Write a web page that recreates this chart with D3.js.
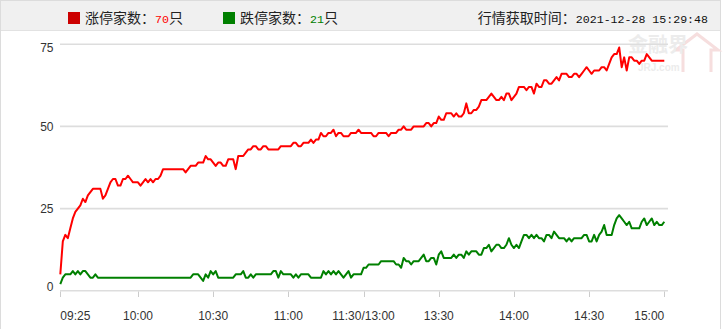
<!DOCTYPE html>
<html><head><meta charset="utf-8">
<script src="https://cdn.jsdelivr.net/npm/d3@7"></script>
<style>html,body{margin:0;padding:0;background:#fff;overflow:hidden}</style>
</head><body>
<svg id="c" width="723" height="329"></svg>
<script>
// ---- data ----
const upCount = [5,15,17,16,19,22,24,25,26,28,
27,29,30,31,31,31,31,28,29,31,
33,34,34,32,32,34,34,35,34,33,
33,33,32,33,34,33,34,33,34,34,
35,37,37,37,37,37,37,37,37,37,
36,37,38,38,38,39,39,39,41,40,
40,39,38,39,39,38,38,40,40,40,
37,41,41,41,42,43,43,44,44,43,
43,44,44,43,43,43,43,43,44,44,
44,44,44,45,45,44,44,45,45,45,
46,45,46,46,48,47,47,48,48,49,
47,48,48,47,47,47,48,48,48,49,
48,48,48,48,48,47,47,48,48,48,
48,47,48,48,48,49,49,50,49,49,
49,50,50,50,50,50,51,51,50,51,
51,53,52,52,54,54,54,53,54,53,
53,54,57,54,54,55,55,56,58,58,
58,59,60,59,58,58,59,58,60,60,
58,59,60,62,62,62,61,62,62,60,
63,62,62,64,64,63,63,64,65,64,
66,66,66,65,65,66,66,65,66,67,
68,67,66,67,67,67,68,68,67,69,
71,72,72,74,68,71,67,71,71,70,
70,69,70,70,72,71,70,70,70,70,
70,70];
const downCount = [2,4,5,5,5,6,5,6,5,6,
6,5,4,4,5,4,4,4,4,4,
4,4,4,4,4,4,4,4,4,4,
4,4,4,4,4,4,4,4,4,4,
4,4,4,4,4,4,4,4,4,4,
4,4,4,5,5,5,4,3,5,4,
6,5,6,4,4,4,4,4,4,4,
5,5,5,6,4,4,5,4,5,5,
5,5,5,5,5,6,6,4,6,5,
5,5,5,4,5,4,5,5,5,5,
4,4,4,4,4,6,5,6,5,6,
5,6,5,4,5,6,4,5,5,5,
5,7,7,8,8,8,8,8,9,9,
9,9,9,9,8,8,7,10,9,9,
8,9,9,9,10,11,9,9,10,10,
8,11,12,10,10,10,10,11,10,11,
11,10,12,11,12,12,12,11,11,13,
13,14,12,13,14,14,13,13,14,16,
14,13,14,13,15,17,17,16,17,16,
17,16,16,15,17,17,16,18,17,16,
16,16,15,16,15,16,16,16,16,17,
17,15,15,17,15,17,18,20,17,17,
17,20,22,23,22,21,20,21,19,19,
19,19,21,22,20,21,22,20,21,20,
20,21];
const tickLabels = ["09:25","10:00","10:30","11:00","11:30/13:00","13:30","14:00","14:30","15:00"];
const tickIndex = [0,31,61,91,121,151,181,211,241];
const yTickValues = [0,25,50,75];
const upLabel = "涨停家数：", downLabel = "跌停家数：", timeLabel = "行情获取时间：";
const upTotal = "70", downTotal = "21", fetchTime = "2021-12-28 15:29:48";

// ---- drawing ----
const svg = d3.select("#c");
const CJK = "'Noto Sans CJK SC','Noto Sans',sans-serif";
const MONO = "'Liberation Mono','DejaVu Sans Mono',monospace";
const SANS = "'Liberation Sans',Arial,sans-serif";

// frame + header
svg.append("rect").attr("x",0.5).attr("y",0.5).attr("width",720).attr("height",340)
  .attr("fill","#fff").attr("stroke","#dcdcdc");
svg.append("rect").attr("x",1).attr("y",1).attr("width",719).attr("height",29.5).attr("fill","#f0f0f0");
svg.append("line").attr("x1",1).attr("x2",720).attr("y1",30.5).attr("y2",30.5).attr("stroke","#e2e2e2");

// watermark
const wm = svg.append("g");
wm.append("path").attr("d","M683,72 L683,50 L676,50 L697,34 L718,50 L711,50 L711,72")
  .attr("fill","none").attr("stroke","#f6dede").attr("stroke-width",3);
wm.append("text").attr("x",628).attr("y",52).attr("font-family",CJK).attr("font-size",20)
  .attr("font-weight","bold").attr("fill","#ececec").text("金融界");
wm.append("text").attr("x",638).attr("y",71).attr("font-family",SANS).attr("font-size",10)
  .attr("font-weight","bold").attr("fill","#ececec").text("JRJ.com");

// legend
function legend(x, color, label, val, valColor){
  svg.append("rect").attr("x",x).attr("y",12).attr("width",12).attr("height",12).attr("fill",color);
  const t = svg.append("text").attr("x",x+17).attr("y",22.5).attr("font-size",14).attr("fill","#222");
  t.append("tspan").attr("font-family",CJK).text(label);
  t.append("tspan").attr("font-family",MONO).attr("font-size",11.6).attr("fill",valColor).text(val);
  t.append("tspan").attr("font-family",CJK).text("只");
}
legend(68,"#cc0000",upLabel,upTotal,"#ff0000");
legend(223,"#008000",downLabel,downTotal,"#008000");
const tt = svg.append("text").attr("x",708).attr("y",22.5).attr("text-anchor","end").attr("font-size",14).attr("fill","#222");
tt.append("tspan").attr("font-family",CJK).text(timeLabel);
tt.append("tspan").attr("font-family",MONO).attr("font-size",11.6).attr("fill","#111").text(fetchTime);

// scales
const x = d3.scaleLinear().domain([0,241]).range([60.3,664.3]);
const y = d3.scaleLinear().domain([0,75]).range([290.8,44.2]);

// grid
svg.append("g").selectAll("line").data(yTickValues).join("line")
  .attr("x1",60).attr("x2",668).attr("y1",d=>y(d)).attr("y2",d=>y(d))
  .attr("stroke","#dddddd").attr("stroke-width",1.6);
svg.append("g").selectAll("text").data(yTickValues).join("text")
  .attr("x",53.5).attr("y",d=>Math.max(47.5,Math.min(287,y(d)))).attr("dy","0.35em")
  .attr("text-anchor","end").attr("font-family",SANS).attr("font-size",12).attr("fill","#333")
  .text(d=>d);

// x ticks
const xt = svg.append("g");
xt.selectAll("line").data(tickIndex).join("line")
  .attr("x1",d=>Math.round(x(d))+0.5).attr("x2",d=>Math.round(x(d))+0.5)
  .attr("y1",291.5).attr("y2",297).attr("stroke","#cccccc");
xt.selectAll("text").data(tickIndex).join("text")
  .attr("x",d=>x(d)).attr("y",320)
  .attr("text-anchor",(d,i)=> i===0?"start":(i===tickIndex.length-1?"end":"middle"))
  .attr("font-family",SANS).attr("font-size",12).attr("fill","#333")
  .text((d,i)=>tickLabels[i]);

// lines
const line = d3.line().x((d,i)=>x(i)).y(d=>y(d));
svg.append("path").datum(downCount).attr("d",line).attr("fill","none")
  .attr("stroke","#008000").attr("stroke-width",2).attr("stroke-linejoin","round");
svg.append("path").datum(upCount).attr("d",line).attr("fill","none")
  .attr("stroke","#ff0000").attr("stroke-width",2).attr("stroke-linejoin","round");
</script>
</body></html>
